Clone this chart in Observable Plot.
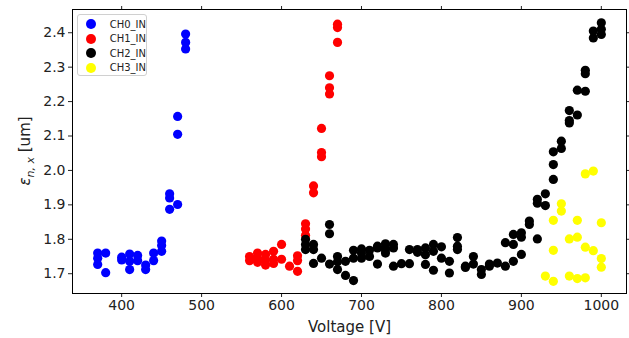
<!DOCTYPE html>
<html>
<head>
<meta charset="utf-8">
<script src="https://cdn.jsdelivr.net/npm/d3@7"></script>
<script src="https://cdn.jsdelivr.net/npm/@observablehq/plot@0.6"></script>
<style>
  body { margin: 0; background: #fff; font-family: "DejaVu Sans", sans-serif; }
  #wrap { position: relative; width: 629px; height: 338px; }
  .legend { position: absolute; left: 77px; top: 14px; width: 70px; height: 62px;
    border: 1px solid #d0d0d0; border-radius: 3px; background: rgba(255,255,255,0.8);
    font-size: 10px; color: #222; box-sizing: border-box; padding-top: 2px; }
  .legend .row { display: flex; align-items: center; height: 14.5px; }
  .legend .sw { width: 10px; height: 10px; border-radius: 50%; margin-left: 8px; margin-right: 14px; }
</style>
</head>
<body>
<div id="wrap"></div>
<script>
const seriesNames = ["CH0_IN", "CH1_IN", "CH2_IN", "CH3_IN"];
const seriesColors = ["#0000ff", "#ff0000", "#000000", "#ffff00"];

const ch0V = [370,370,370,380,380,400,400,410,410,410,420,420,430,430,440,440,450,450,450,460,460,460,470,470,470,480,480,480];
const ch0E = [1.760,1.745,1.727,1.760,1.703,1.748,1.740,1.757,1.736,1.712,1.753,1.738,1.725,1.712,1.760,1.738,1.795,1.782,1.765,1.932,1.920,1.887,2.157,2.105,1.901,2.396,2.372,2.353];

const ch1V = [560,560,570,570,570,580,580,580,590,590,590,600,600,610,620,620,620,630,630,630,640,640,650,650,650,660,660,660,670,670,670];
const ch1E = [1.750,1.738,1.760,1.745,1.733,1.756,1.740,1.725,1.765,1.742,1.730,1.785,1.742,1.722,1.752,1.738,1.707,1.845,1.830,1.812,1.955,1.935,2.122,2.052,2.040,2.275,2.240,2.222,2.425,2.415,2.372];

const ch2V = [630,630,630,640,640,640,650,660,660,660,670,670,670,680,680,690,690,690,700,700,700,710,710,720,720,720,730,730,730,740,740,740,750,760,760,770,770,780,780,780,790,790,790,800,800,810,810,820,820,820,830,830,840,840,850,850,860,860,870,880,880,890,890,890,900,900,900,910,910,920,920,920,930,930,940,940,940,950,950,960,960,960,970,970,980,980,980,990,990,1000,1000,1000];
const ch2E = [1.800,1.785,1.770,1.785,1.770,1.730,1.745,1.843,1.816,1.728,1.750,1.735,1.712,1.736,1.695,1.768,1.745,1.680,1.772,1.760,1.745,1.768,1.750,1.780,1.775,1.728,1.787,1.770,1.760,1.785,1.775,1.722,1.729,1.770,1.729,1.770,1.762,1.775,1.755,1.727,1.785,1.765,1.710,1.778,1.745,1.736,1.702,1.805,1.780,1.770,1.722,1.718,1.750,1.728,1.698,1.712,1.728,1.722,1.731,1.790,1.722,1.814,1.785,1.736,1.819,1.806,1.756,1.853,1.843,1.916,1.905,1.801,1.932,1.898,2.054,2.017,1.974,2.085,2.064,2.174,2.145,2.138,2.233,2.161,2.291,2.281,2.230,2.405,2.385,2.429,2.410,2.395];

const ch3V = [930,940,940,940,950,950,960,960,970,970,970,980,980,980,990,990,1000,1000,1000];
const ch3E = [1.693,1.855,1.768,1.678,1.903,1.882,1.801,1.693,1.855,1.806,1.686,1.990,1.777,1.688,1.998,1.767,1.848,1.744,1.719];

const xTicks = [400,500,600,700,800,900,1000];
const yTicks = [1.7,1.8,1.9,2.0,2.1,2.2,2.3,2.4];

const seriesV = [ch0V, ch1V, ch2V, ch3V];
const seriesE = [ch0E, ch1E, ch2E, ch3E];
const tables = seriesV.map((vs, i) => vs.map((v, j) => ({v, e: seriesE[i][j]})));

const chart = Plot.plot({
  width: 629, height: 338,
  marginLeft: 72, marginRight: 3, marginTop: 9, marginBottom: 45,
  style: { fontFamily: "DejaVu Sans, sans-serif", fontSize: "14px", color: "#222" },
  x: { domain: [338.5, 1031.5] },
  y: { domain: [1.6425, 2.4675] },
  marks: [
    Plot.axisX({ ticks: xTicks, tickSize: 4, tickPadding: 3, tickFormat: d3.format("d"), label: "Voltage [V]", labelAnchor: "center", labelArrow: "none", labelOffset: 38, fontSize: 14 }),
    Plot.axisX({ anchor: "top", ticks: xTicks, tickSize: 4, tickFormat: () => "", label: null }),
    Plot.axisY({ ticks: yTicks, tickSize: 4, tickPadding: 3, tickFormat: d3.format(".1f"), label: null, fontSize: 14 }),
    Plot.axisY({ anchor: "right", ticks: yTicks, tickSize: 4, tickFormat: () => "", label: null }),
    ...tables.map((t, i) => Plot.dot(t, { x: "v", y: "e", r: 4.6, fill: seriesColors[i], stroke: "none" })),
    Plot.frame({ stroke: "#000", strokeWidth: 1 })
  ]
});

const svg = d3.select(chart);
svg.selectAll("[aria-label='x-axis label'] text").style("font-size", "15px");
const yl = svg.append("text")
  .attr("transform", "translate(30,151) rotate(-90)")
  .attr("text-anchor", "middle")
  .attr("fill", "#222")
  .style("font-size", "15px")
  .style("font-family", "DejaVu Sans, sans-serif");
yl.append("tspan").style("font-style", "italic").text("ε");
yl.append("tspan").attr("dy", 4).style("font-style", "italic").style("font-size", "11px").text("n, x");
yl.append("tspan").attr("dy", -4).text(" [um]");

const wrap = document.getElementById("wrap");
wrap.appendChild(chart);

const legend = document.createElement("div");
legend.className = "legend";
seriesNames.forEach((name, i) => {
  const row = document.createElement("div");
  row.className = "row";
  const sw = document.createElement("span");
  sw.className = "sw";
  sw.style.background = seriesColors[i];
  const tx = document.createElement("span");
  tx.textContent = name;
  row.appendChild(sw); row.appendChild(tx);
  legend.appendChild(row);
});
wrap.appendChild(legend);
</script>
</body>
</html>
